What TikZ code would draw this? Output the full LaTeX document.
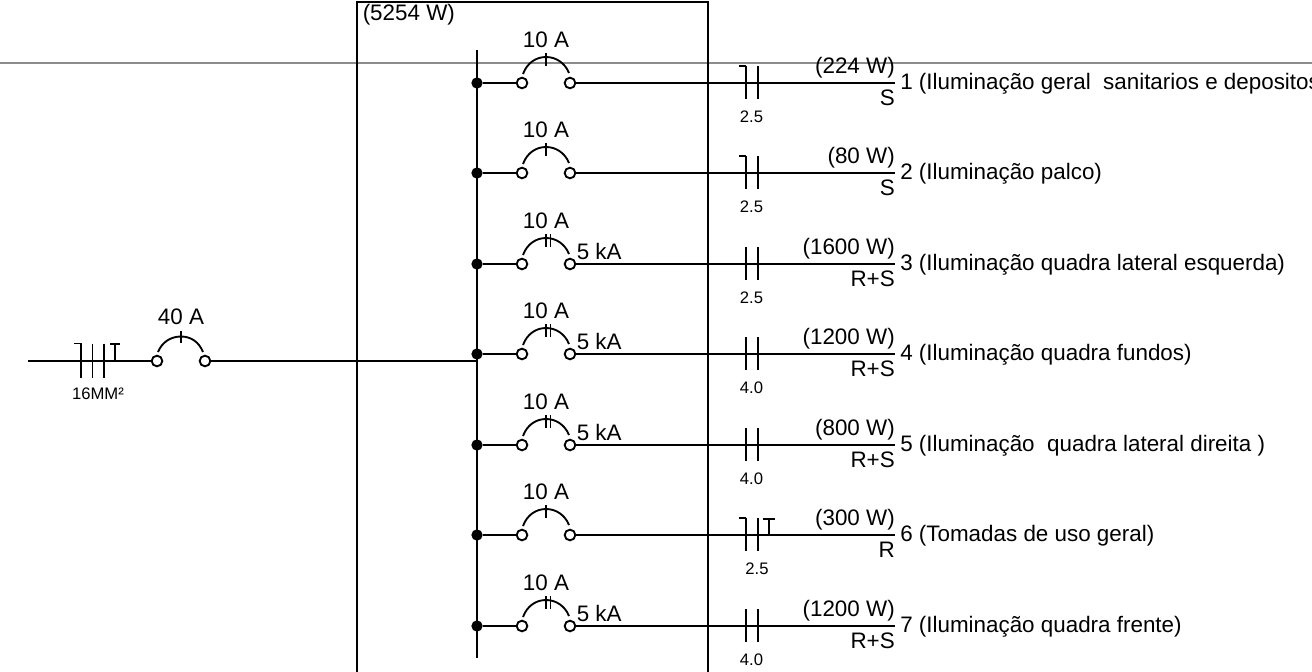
\documentclass[tikz,border=0pt]{standalone}
\usepackage{fontspec}
\setmainfont{Liberation Sans}
\usepackage{xcolor}
\definecolor{lightgray2}{gray}{0.55}
\usepackage{tikz}
\usetikzlibrary{positioning}

\tikzset{
	wire/.style={line width=1.4pt, black},
	terminal/.style={circle, draw, line width=1.4pt, fill=white, minimum size=8pt, inner sep=0pt},
	tap/.style={circle, fill=black, minimum size=8.5pt, inner sep=0pt},
	bigtext/.style={font=\fontsize{16.8}{19}\selectfont, inner sep=0pt},
	smalltext/.style={font=\fontsize{12.5}{15}\selectfont, inner sep=0pt, anchor=base}
}

\begin{document}
\begin{tikzpicture}[x=0.75pt, y=-0.75pt]

\def \xbus{477}
\def \xl{522}
\def \xr{570}
\def \xa{546}
\def \xm{746}
\def \xn{758}
\def \xend{895}

\useasboundingbox (0,0) rectangle (1312,671);
\clip (0,0) rectangle (1312,671);

\draw[lightgray2, line width=1.5pt] (0,63) -- (1312,63); % help line

% panel
\draw[wire] (357,690) -- (357,2) -- (708,2) -- (708,690);
\node[bigtext, anchor=base west] (panel load) at (362.5,20) {(5254 W)};

% bus
\coordinate (bus top) at (\xbus,50);
\coordinate (bus bottom) at (\xbus,658);
\draw[wire] (bus top) -- (bus bottom);

% feeder
\coordinate (feeder start) at (28,361);
\coordinate (feeder end) at (\xbus,361);
\node[terminal] (feeder left) at (157,361) {};
\node[terminal] (feeder right) at (205,361) {};
\draw[wire] (feeder start) -- (feeder left);
\draw[wire] (feeder right) -- (feeder end);
\draw[wire] (158,352) .. controls (162,342) and (171,336.5) .. (181,336.5) .. controls (191,336.5) and (199,342) .. (203,352);
\draw[wire] (181,331) -- (181,343);
\draw[wire] (74,343.5) -- (81,343.5) -- (81,377.5);
\draw[wire] (92.5,343.5) -- (92.5,377.5);
\draw[wire] (104,343.5) -- (104,377.5);
\draw[wire] (110,344) -- (120,344);
\draw[wire] (115,344) -- (115,361);
\node[bigtext, anchor=base] (feeder rating) at (181,324) {40 A};
\node[smalltext] (feeder gauge) at (98,399) {16MM²};

% circuits
\foreach \n/\y/\load/\phase/\gauge/\xg/\desc in {
	1/83/224 W/S/2.5/751.5/Iluminação geral~~sanitarios e depositos,
	2/173/80 W/S/2.5/751.5/Iluminação palco,
	3/264/1600 W/R+S/2.5/751.5/Iluminação quadra lateral esquerda,
	4/354/1200 W/R+S/4.0/751.5/Iluminação quadra fundos,
	5/445/800 W/R+S/4.0/751.5/Iluminação~~quadra lateral direita~,
	6/535/300 W/R/2.5/757/Tomadas de uso geral,
	7/626/1200 W/R+S/4.0/751.5/Iluminação quadra frente} {
	\node[tap] (tap\n) at (\xbus,\y) {};
	\node[terminal] (left\n) at (\xl,\y) {};
	\node[terminal] (right\n) at (\xr,\y) {};
	\coordinate (end\n) at (\xend,\y);
	\draw[wire] (tap\n) -- (left\n);
	\draw[wire] (right\n) -- (end\n);
	\draw[wire] (523,\y-9) .. controls (527,\y-20) and (536,\y-26) .. (\xa,\y-26) .. controls (556,\y-26) and (565,\y-20) .. (569,\y-10); % breaker arc
	\draw[wire] (\xm,\y-17) -- (\xm,\y+16);
	\draw[wire] (\xn,\y-17) -- (\xn,\y+16);
	\node[bigtext, anchor=base] (rating\n) at (\xa,\y-36) {10 A};
	\node[smalltext] (gauge\n) at (\xg,\y+39) {\gauge};
	\node[bigtext, anchor=base east] (load\n) at (\xend,\y-10) {(\load)};
	\node[bigtext, anchor=base east] (phase\n) at (\xend,\y+22) {\phase};
	\node[bigtext, anchor=base west] (desc\n) at (900,\y+6) {\n~(\desc)};
}

% 5 kA breakers
\foreach \n/\y in {3/264, 4/354, 5/445, 7/626} {
	\draw[wire] (\xa,\y-30) -- (\xa,\y-17);
	\draw[wire] (\xa+4.5,\y-30) -- (\xa+4.5,\y-17);
	\node[bigtext, anchor=base west] (icc\n) at (576.5,\y-5) {5 kA};
}

% single tick breakers and hooked wire marks
\foreach \n/\y in {1/83, 2/173, 6/535} {
	\draw[wire] (\xa,\y-30) -- (\xa,\y-17);
	\draw[wire] (739,\y-17) -- (\xm,\y-17);
}

\draw[wire] (763,519) -- (775,519); % ground mark
\draw[wire] (769,519) -- (769,535);

\end{tikzpicture}
\end{document}
